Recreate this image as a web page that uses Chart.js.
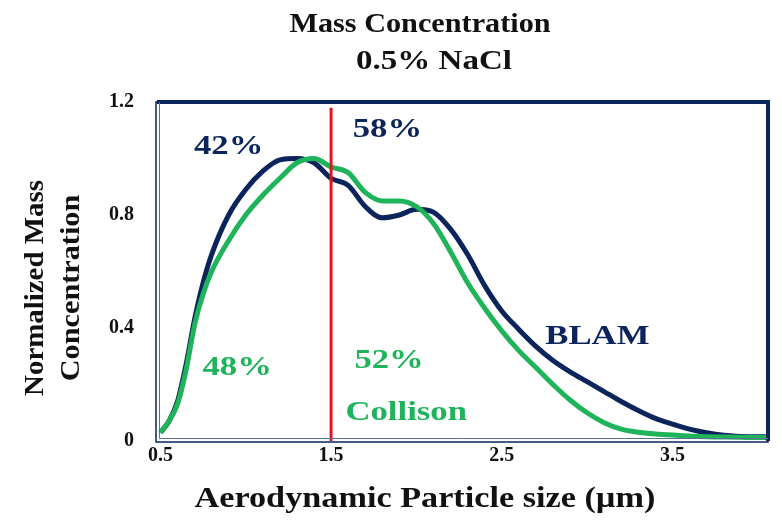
<!DOCTYPE html>
<html>
<head>
<meta charset="utf-8">
<script src="https://cdn.jsdelivr.net/npm/chart.js@4.4.0/dist/chart.umd.min.js"></script>
<style>
  html, body { margin: 0; padding: 0; background: #fff; }
  #wrap { width: 782px; height: 531px; }
</style>
</head>
<body>
<div id="wrap"><canvas id="massChart" width="782" height="531"></canvas></div>
<script>
// particle size (um), finer steps on the steep rise
const sizes = [0.5, 0.55, 0.6, 0.65, 0.7, 0.75, 0.8, 0.9, 1.0, 1.1, 1.2, 1.3, 1.4, 1.5, 1.6, 1.7, 1.8, 1.9,
               2.0, 2.1, 2.2, 2.3, 2.4, 2.5, 2.6, 2.7, 2.8, 2.9, 3.0, 3.1, 3.2, 3.3, 3.4,
               3.5, 3.6, 3.7, 3.8, 3.9, 4.0, 4.1];
const blam = [0.03, 0.07, 0.14, 0.27, 0.43, 0.56, 0.66, 0.80, 0.89, 0.955, 0.995, 1.0, 0.985, 0.93, 0.905, 0.83, 0.79, 0.80,
              0.82, 0.81, 0.75, 0.66, 0.55, 0.46, 0.395, 0.335, 0.285, 0.245, 0.21, 0.175, 0.14, 0.108, 0.08,
              0.06, 0.042, 0.029, 0.02, 0.016, 0.015, 0.015];
const collison = [0.03, 0.07, 0.13, 0.25, 0.41, 0.52, 0.60, 0.71, 0.80, 0.87, 0.93, 0.985, 1.0, 0.97, 0.95, 0.88, 0.85, 0.85,
                  0.83, 0.77, 0.67, 0.56, 0.47, 0.39, 0.32, 0.26, 0.20, 0.145, 0.10, 0.065, 0.042, 0.031, 0.025,
                  0.021, 0.018, 0.015, 0.014, 0.013, 0.012, 0.012];
const cutSize = 1.5;
const xTicks = [0.5, 1.5, 2.5, 3.5];
const yTicks = [0, 0.4, 0.8, 1.2];
const shares = { blamBelow: '42%', blamAbove: '58%', collBelow: '48%', collAbove: '52%' };

const NAVY = '#0b245c';
const GREEN = '#1fb35a';
const RED = '#e3141b';
const SERIF = '"Liberation Serif", "Times New Roman", serif';

// stretched bold serif text, like the source image
function drawText(ctx, text, x, y, size, color, stretch, rot) {
    ctx.save();
    ctx.translate(x, y);
    if (rot) ctx.rotate(rot);
    ctx.scale(stretch, 1);
    ctx.font = 'bold ' + size + 'px ' + SERIF;
    ctx.fillStyle = color;
    ctx.textAlign = 'center';
    ctx.textBaseline = 'middle';
    ctx.fillText(text, 0, 0);
    ctx.restore();
}

const decorations = {
    id: 'decorations',
    afterDraw(chart) {
        const { ctx, chartArea: a, scales: { x, y } } = chart;

        // frame: solid top/right, double line left/bottom
        ctx.save();
        ctx.strokeStyle = NAVY;
        ctx.lineWidth = 4;
        ctx.beginPath();
        ctx.moveTo(a.left, a.top);
        ctx.lineTo(a.right, a.top);
        ctx.lineTo(a.right, a.bottom);
        ctx.stroke();
        ctx.lineWidth = 1.5;
        ctx.strokeRect(a.left - 1, a.top, a.right - a.left + 1, a.bottom - a.top + 1);
        ctx.beginPath();
        ctx.moveTo(a.left + 2.5, a.top);
        ctx.lineTo(a.left + 2.5, a.bottom - 2.5);
        ctx.lineTo(a.right, a.bottom - 2.5);
        ctx.strokeStyle = '#5a6f95';
        ctx.lineWidth = 1;
        ctx.stroke();
        ctx.restore();

        // titles
        drawText(ctx, 'Mass Concentration', 420, 25, 27, '#111', 1.12);
        drawText(ctx, '0.5% NaCl', 434, 62, 28, '#111', 1.18);
        drawText(ctx, 'Aerodynamic Particle size (\u00b5m)', 425, 500, 29, '#111', 1.18);
        drawText(ctx, 'Normalized Mass', 36, 288, 27, '#111', 1.07, -Math.PI / 2);
        drawText(ctx, 'Concentration', 72, 288, 27, '#111', 1.12, -Math.PI / 2);

        // in-plot notes
        const notes = [
            [shares.blamBelow, 0.9, 1.04, NAVY],
            [shares.blamAbove, 1.83, 1.10, NAVY],
            [shares.collBelow, 0.95, 0.26, GREEN],
            [shares.collAbove, 1.84, 0.285, GREEN],
            ['BLAM', 3.06, 0.37, NAVY],
            ['Collison', 1.94, 0.10, GREEN]
        ];
        notes.forEach(([t, vx, vy, c]) => {
            drawText(ctx, t, x.getPixelForValue(vx), y.getPixelForValue(vy), 28, c, 1.24);
        });
    }
};

const ctx = document.getElementById('massChart').getContext('2d');
const massChart = new Chart(ctx, {
    type: 'line',
    data: {
        labels: sizes,
        datasets: [
            {
                label: 'cut',
                data: [{ x: cutSize, y: 0 }, { x: cutSize, y: 1.18 }],
                borderColor: RED,
                borderWidth: 3,
                pointRadius: 0
            },
            {
                label: 'Collison',
                data: sizes.map((s, i) => ({ x: s, y: collison[i] })),
                borderColor: GREEN,
                borderWidth: 5,
                pointRadius: 0,
                cubicInterpolationMode: 'monotone'
            },
            {
                label: 'BLAM',
                data: sizes.map((s, i) => ({ x: s, y: blam[i] })),
                borderColor: NAVY,
                borderWidth: 5,
                pointRadius: 0,
                cubicInterpolationMode: 'monotone'
            }
        ]
    },
    options: {
        responsive: false,
        animation: false,
        layout: { padding: { top: 102, right: 14, bottom: 0, left: 0 } },
        plugins: {
            legend: { display: false },
            tooltip: { enabled: false }
        },
        scales: {
            x: {
                type: 'linear',
                min: 0.48,
                max: 4.06,
                afterBuildTicks: (s) => { s.ticks = xTicks.map(v => ({ value: v })); },
                afterFit: (s) => { s.height = 90; },
                grid: { display: false, drawTicks: false },
                border: { display: false },
                ticks: {
                    color: '#111',
                    padding: 3,
                    maxRotation: 0,
                    font: { family: SERIF, size: 20, weight: 'bold' },
                    callback: (v) => String(v)
                }
            },
            y: {
                min: 0,
                max: 1.2,
                afterBuildTicks: (s) => { s.ticks = yTicks.map(v => ({ value: v })); },
                afterFit: (s) => { s.width = 157; },
                grid: { display: false, drawTicks: false },
                border: { display: false },
                ticks: {
                    color: '#111',
                    padding: 23,
                    font: { family: SERIF, size: 20, weight: 'bold' },
                    callback: (v) => (v === 0 ? '0' : v.toFixed(1))
                }
            }
        }
    },
    plugins: [decorations]
});
</script>
</body>
</html>
